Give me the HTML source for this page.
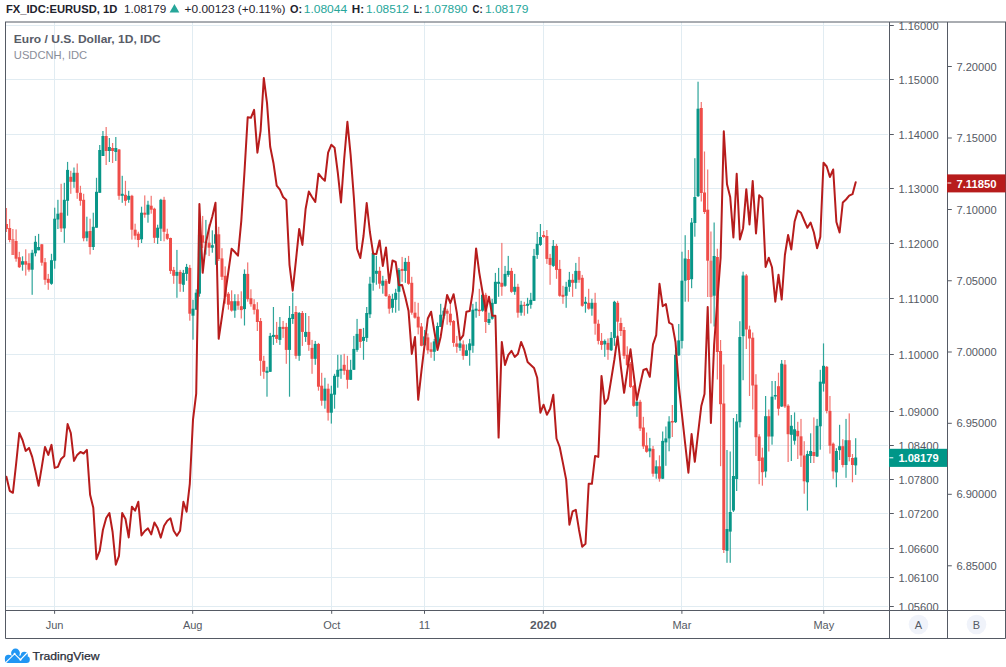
<!DOCTYPE html>
<html><head><meta charset="utf-8"><title>EURUSD chart</title>
<style>
html,body{margin:0;padding:0;background:#fff;}
body{width:1006px;height:667px;position:relative;overflow:hidden;font-family:"Liberation Sans",sans-serif;}
</style></head><body>
<svg width="1006" height="667" viewBox="0 0 1006 667" style="position:absolute;left:0;top:0">
<g stroke="#e1ecf2" stroke-width="1" shape-rendering="crispEdges">
<line x1="6" y1="25.50" x2="888.3" y2="25.50"/>
<line x1="6" y1="79.50" x2="888.3" y2="79.50"/>
<line x1="6" y1="134.50" x2="888.3" y2="134.50"/>
<line x1="6" y1="188.50" x2="888.3" y2="188.50"/>
<line x1="6" y1="243.50" x2="888.3" y2="243.50"/>
<line x1="6" y1="298.50" x2="888.3" y2="298.50"/>
<line x1="6" y1="354.50" x2="888.3" y2="354.50"/>
<line x1="6" y1="411.50" x2="888.3" y2="411.50"/>
<line x1="6" y1="445.50" x2="888.3" y2="445.50"/>
<line x1="6" y1="479.50" x2="888.3" y2="479.50"/>
<line x1="6" y1="513.50" x2="888.3" y2="513.50"/>
<line x1="6" y1="548.50" x2="888.3" y2="548.50"/>
<line x1="6" y1="577.50" x2="888.3" y2="577.50"/>
<line x1="6" y1="606.50" x2="888.3" y2="606.50"/>
<line x1="54.6" y1="22" x2="54.6" y2="610"/>
<line x1="192.7" y1="22" x2="192.7" y2="610"/>
<line x1="331.7" y1="22" x2="331.7" y2="610"/>
<line x1="424.5" y1="22" x2="424.5" y2="610"/>
<line x1="543.3" y1="22" x2="543.3" y2="610"/>
<line x1="681.9" y1="22" x2="681.9" y2="610"/>
<line x1="823.8" y1="22" x2="823.8" y2="610"/>
</g>
<defs><clipPath id="plot"><rect x="6" y="22" width="883" height="588"/></clipPath></defs>
<g clip-path="url(#plot)">
<g><rect x="5.84" y="208.0" width="1.2" height="24.0" fill="#f27470"/><rect x="9.06" y="219.0" width="1.2" height="23.3" fill="#f27470"/><rect x="12.27" y="229.0" width="1.2" height="26.0" fill="#f27470"/><rect x="15.49" y="229.4" width="1.2" height="32.3" fill="#f27470"/><rect x="18.71" y="251.8" width="1.2" height="16.2" fill="#f27470"/><rect x="21.92" y="256.3" width="1.2" height="14.4" fill="#2ea59a"/><rect x="25.14" y="249.3" width="1.2" height="26.3" fill="#f27470"/><rect x="28.36" y="253.3" width="1.2" height="18.4" fill="#f27470"/><rect x="31.57" y="249.8" width="1.2" height="45.0" fill="#2ea59a"/><rect x="34.79" y="235.9" width="1.2" height="20.4" fill="#2ea59a"/><rect x="38.01" y="233.9" width="1.2" height="16.4" fill="#2ea59a"/><rect x="41.22" y="244.0" width="1.2" height="21.7" fill="#f27470"/><rect x="44.44" y="258.0" width="1.2" height="26.8" fill="#f27470"/><rect x="47.66" y="273.9" width="1.2" height="15.9" fill="#f27470"/><rect x="50.88" y="253.8" width="1.2" height="31.0" fill="#2ea59a"/><rect x="54.09" y="207.7" width="1.2" height="61.0" fill="#2ea59a"/><rect x="57.31" y="199.8" width="1.2" height="29.2" fill="#2ea59a"/><rect x="60.53" y="183.8" width="1.2" height="48.2" fill="#f27470"/><rect x="63.74" y="182.8" width="1.2" height="60.0" fill="#2ea59a"/><rect x="66.96" y="161.9" width="1.2" height="53.8" fill="#2ea59a"/><rect x="70.18" y="170.8" width="1.2" height="23.0" fill="#f27470"/><rect x="73.39" y="167.5" width="1.2" height="20.3" fill="#2ea59a"/><rect x="76.61" y="163.5" width="1.2" height="35.3" fill="#f27470"/><rect x="79.83" y="185.8" width="1.2" height="19.9" fill="#f27470"/><rect x="83.04" y="193.8" width="1.2" height="47.5" fill="#f27470"/><rect x="86.26" y="216.7" width="1.2" height="24.6" fill="#2ea59a"/><rect x="89.48" y="218.7" width="1.2" height="35.8" fill="#f27470"/><rect x="92.69" y="212.7" width="1.2" height="37.3" fill="#2ea59a"/><rect x="95.91" y="177.8" width="1.2" height="49.9" fill="#2ea59a"/><rect x="99.13" y="145.0" width="1.2" height="47.8" fill="#2ea59a"/><rect x="102.34" y="131.0" width="1.2" height="25.0" fill="#2ea59a"/><rect x="105.56" y="127.0" width="1.2" height="38.0" fill="#f27470"/><rect x="108.78" y="138.0" width="1.2" height="24.0" fill="#2ea59a"/><rect x="111.99" y="143.0" width="1.2" height="20.0" fill="#f27470"/><rect x="115.21" y="137.0" width="1.2" height="24.0" fill="#2ea59a"/><rect x="118.43" y="149.0" width="1.2" height="50.8" fill="#f27470"/><rect x="121.64" y="175.8" width="1.2" height="27.0" fill="#2ea59a"/><rect x="124.86" y="180.8" width="1.2" height="24.9" fill="#f27470"/><rect x="128.08" y="190.8" width="1.2" height="12.0" fill="#2ea59a"/><rect x="131.30" y="194.8" width="1.2" height="44.8" fill="#f27470"/><rect x="134.51" y="223.7" width="1.2" height="15.9" fill="#f27470"/><rect x="137.73" y="231.7" width="1.2" height="15.6" fill="#f27470"/><rect x="140.95" y="206.7" width="1.2" height="36.3" fill="#2ea59a"/><rect x="144.16" y="195.4" width="1.2" height="22.3" fill="#f27470"/><rect x="147.38" y="200.8" width="1.2" height="21.9" fill="#2ea59a"/><rect x="150.60" y="195.8" width="1.2" height="17.9" fill="#f27470"/><rect x="153.81" y="207.7" width="1.2" height="35.3" fill="#f27470"/><rect x="157.03" y="224.7" width="1.2" height="19.3" fill="#2ea59a"/><rect x="160.25" y="198.8" width="1.2" height="42.2" fill="#2ea59a"/><rect x="163.46" y="196.8" width="1.2" height="44.5" fill="#f27470"/><rect x="166.68" y="228.7" width="1.2" height="11.3" fill="#f27470"/><rect x="169.90" y="237.6" width="1.2" height="36.3" fill="#f27470"/><rect x="173.11" y="266.9" width="1.2" height="16.9" fill="#f27470"/><rect x="176.33" y="249.9" width="1.2" height="47.9" fill="#2ea59a"/><rect x="179.55" y="269.9" width="1.2" height="21.9" fill="#f27470"/><rect x="182.76" y="269.9" width="1.2" height="21.9" fill="#2ea59a"/><rect x="185.98" y="263.9" width="1.2" height="16.9" fill="#2ea59a"/><rect x="189.20" y="264.9" width="1.2" height="55.8" fill="#f27470"/><rect x="192.41" y="299.8" width="1.2" height="39.9" fill="#2ea59a"/><rect x="195.63" y="289.3" width="1.2" height="20.7" fill="#2ea59a"/><rect x="198.85" y="230.0" width="1.2" height="66.7" fill="#2ea59a"/><rect x="202.06" y="215.9" width="1.2" height="32.1" fill="#f27470"/><rect x="205.28" y="219.9" width="1.2" height="34.7" fill="#2ea59a"/><rect x="208.50" y="224.3" width="1.2" height="31.8" fill="#f27470"/><rect x="211.72" y="230.3" width="1.2" height="22.4" fill="#2ea59a"/><rect x="214.93" y="225.8" width="1.2" height="39.0" fill="#2ea59a"/><rect x="218.15" y="226.8" width="1.2" height="34.2" fill="#f27470"/><rect x="221.37" y="248.2" width="1.2" height="31.8" fill="#f27470"/><rect x="224.58" y="266.4" width="1.2" height="37.3" fill="#f27470"/><rect x="227.80" y="292.0" width="1.2" height="17.6" fill="#f27470"/><rect x="231.02" y="290.3" width="1.2" height="21.3" fill="#f27470"/><rect x="234.23" y="294.2" width="1.2" height="23.6" fill="#2ea59a"/><rect x="237.45" y="294.2" width="1.2" height="15.6" fill="#f27470"/><rect x="240.67" y="291.3" width="1.2" height="27.2" fill="#f27470"/><rect x="243.88" y="269.4" width="1.2" height="56.1" fill="#2ea59a"/><rect x="247.10" y="262.4" width="1.2" height="39.3" fill="#f27470"/><rect x="250.32" y="289.3" width="1.2" height="17.4" fill="#f27470"/><rect x="253.53" y="299.2" width="1.2" height="15.2" fill="#f27470"/><rect x="256.75" y="302.2" width="1.2" height="28.8" fill="#f27470"/><rect x="259.97" y="318.0" width="1.2" height="57.8" fill="#f27470"/><rect x="263.18" y="355.8" width="1.2" height="23.0" fill="#f27470"/><rect x="266.40" y="366.8" width="1.2" height="29.9" fill="#2ea59a"/><rect x="269.62" y="332.9" width="1.2" height="39.1" fill="#2ea59a"/><rect x="272.83" y="307.0" width="1.2" height="37.9" fill="#2ea59a"/><rect x="276.05" y="321.9" width="1.2" height="21.0" fill="#f27470"/><rect x="279.27" y="317.0" width="1.2" height="27.9" fill="#2ea59a"/><rect x="282.48" y="320.9" width="1.2" height="17.0" fill="#f27470"/><rect x="285.70" y="322.9" width="1.2" height="40.9" fill="#f27470"/><rect x="288.92" y="306.0" width="1.2" height="90.7" fill="#2ea59a"/><rect x="292.14" y="292.7" width="1.2" height="31.2" fill="#2ea59a"/><rect x="295.35" y="306.0" width="1.2" height="52.8" fill="#f27470"/><rect x="298.57" y="312.0" width="1.2" height="48.8" fill="#2ea59a"/><rect x="301.79" y="311.0" width="1.2" height="34.9" fill="#f27470"/><rect x="305.00" y="313.0" width="1.2" height="28.9" fill="#2ea59a"/><rect x="308.22" y="316.0" width="1.2" height="34.8" fill="#f27470"/><rect x="311.44" y="339.9" width="1.2" height="33.9" fill="#f27470"/><rect x="314.65" y="340.9" width="1.2" height="23.9" fill="#2ea59a"/><rect x="317.87" y="342.9" width="1.2" height="47.8" fill="#f27470"/><rect x="321.09" y="372.8" width="1.2" height="32.9" fill="#f27470"/><rect x="324.30" y="377.8" width="1.2" height="30.9" fill="#2ea59a"/><rect x="327.52" y="383.7" width="1.2" height="36.9" fill="#f27470"/><rect x="330.74" y="385.7" width="1.2" height="37.9" fill="#2ea59a"/><rect x="333.95" y="373.8" width="1.2" height="34.9" fill="#2ea59a"/><rect x="337.17" y="354.8" width="1.2" height="32.9" fill="#2ea59a"/><rect x="340.39" y="354.8" width="1.2" height="24.0" fill="#2ea59a"/><rect x="343.60" y="353.8" width="1.2" height="21.0" fill="#f27470"/><rect x="346.82" y="355.8" width="1.2" height="32.9" fill="#f27470"/><rect x="350.04" y="359.8" width="1.2" height="20.2" fill="#2ea59a"/><rect x="353.25" y="335.9" width="1.2" height="34.1" fill="#2ea59a"/><rect x="356.47" y="318.9" width="1.2" height="32.9" fill="#2ea59a"/><rect x="359.69" y="328.9" width="1.2" height="19.0" fill="#f27470"/><rect x="362.90" y="327.9" width="1.2" height="31.9" fill="#2ea59a"/><rect x="366.12" y="307.0" width="1.2" height="34.9" fill="#2ea59a"/><rect x="369.34" y="276.8" width="1.2" height="41.2" fill="#2ea59a"/><rect x="372.56" y="252.8" width="1.2" height="37.9" fill="#2ea59a"/><rect x="375.77" y="255.8" width="1.2" height="28.9" fill="#2ea59a"/><rect x="378.99" y="266.8" width="1.2" height="21.9" fill="#f27470"/><rect x="382.21" y="275.8" width="1.2" height="17.9" fill="#2ea59a"/><rect x="385.42" y="279.0" width="1.2" height="18.0" fill="#f27470"/><rect x="388.64" y="294.0" width="1.2" height="19.7" fill="#f27470"/><rect x="391.86" y="293.8" width="1.2" height="18.9" fill="#2ea59a"/><rect x="395.07" y="288.8" width="1.2" height="23.9" fill="#2ea59a"/><rect x="398.29" y="268.0" width="1.2" height="42.7" fill="#2ea59a"/><rect x="401.51" y="256.9" width="1.2" height="24.9" fill="#f27470"/><rect x="404.72" y="257.9" width="1.2" height="24.9" fill="#2ea59a"/><rect x="407.94" y="255.9" width="1.2" height="28.9" fill="#f27470"/><rect x="411.16" y="276.8" width="1.2" height="37.9" fill="#f27470"/><rect x="414.37" y="301.8" width="1.2" height="16.9" fill="#f27470"/><rect x="417.59" y="302.8" width="1.2" height="31.6" fill="#f27470"/><rect x="420.81" y="323.0" width="1.2" height="23.3" fill="#f27470"/><rect x="424.02" y="330.0" width="1.2" height="16.3" fill="#2ea59a"/><rect x="427.24" y="333.4" width="1.2" height="20.4" fill="#f27470"/><rect x="430.46" y="342.4" width="1.2" height="15.4" fill="#f27470"/><rect x="433.67" y="338.9" width="1.2" height="21.9" fill="#2ea59a"/><rect x="436.89" y="322.5" width="1.2" height="24.3" fill="#2ea59a"/><rect x="440.11" y="303.8" width="1.2" height="23.2" fill="#2ea59a"/><rect x="443.32" y="307.8" width="1.2" height="10.9" fill="#2ea59a"/><rect x="446.54" y="308.7" width="1.2" height="16.0" fill="#f27470"/><rect x="449.76" y="300.8" width="1.2" height="24.7" fill="#f27470"/><rect x="452.98" y="320.0" width="1.2" height="26.8" fill="#f27470"/><rect x="456.19" y="335.9" width="1.2" height="16.9" fill="#f27470"/><rect x="459.41" y="339.9" width="1.2" height="10.9" fill="#2ea59a"/><rect x="462.63" y="340.4" width="1.2" height="19.4" fill="#f27470"/><rect x="465.84" y="344.4" width="1.2" height="11.6" fill="#2ea59a"/><rect x="469.06" y="338.9" width="1.2" height="26.8" fill="#2ea59a"/><rect x="472.28" y="303.8" width="1.2" height="49.0" fill="#2ea59a"/><rect x="475.49" y="301.8" width="1.2" height="15.9" fill="#2ea59a"/><rect x="478.71" y="288.8" width="1.2" height="27.2" fill="#f27470"/><rect x="481.93" y="293.8" width="1.2" height="17.9" fill="#2ea59a"/><rect x="485.14" y="292.8" width="1.2" height="40.2" fill="#f27470"/><rect x="488.36" y="312.7" width="1.2" height="12.3" fill="#2ea59a"/><rect x="491.58" y="298.8" width="1.2" height="20.9" fill="#2ea59a"/><rect x="494.79" y="272.9" width="1.2" height="31.1" fill="#2ea59a"/><rect x="498.01" y="267.9" width="1.2" height="28.9" fill="#2ea59a"/><rect x="501.23" y="242.9" width="1.2" height="52.9" fill="#f27470"/><rect x="504.44" y="265.9" width="1.2" height="20.9" fill="#2ea59a"/><rect x="507.66" y="255.9" width="1.2" height="20.9" fill="#2ea59a"/><rect x="510.88" y="267.9" width="1.2" height="24.9" fill="#f27470"/><rect x="514.09" y="273.9" width="1.2" height="20.9" fill="#2ea59a"/><rect x="517.31" y="283.8" width="1.2" height="33.9" fill="#f27470"/><rect x="520.53" y="300.8" width="1.2" height="14.9" fill="#2ea59a"/><rect x="523.74" y="301.8" width="1.2" height="13.9" fill="#f27470"/><rect x="526.96" y="297.8" width="1.2" height="15.9" fill="#2ea59a"/><rect x="530.18" y="292.8" width="1.2" height="15.9" fill="#2ea59a"/><rect x="533.40" y="248.9" width="1.2" height="52.1" fill="#2ea59a"/><rect x="536.61" y="232.0" width="1.2" height="26.9" fill="#2ea59a"/><rect x="539.83" y="224.0" width="1.2" height="21.9" fill="#2ea59a"/><rect x="543.05" y="231.0" width="1.2" height="7.0" fill="#f27470"/><rect x="546.26" y="230.0" width="1.2" height="33.9" fill="#f27470"/><rect x="549.48" y="253.9" width="1.2" height="30.9" fill="#f27470"/><rect x="552.70" y="240.0" width="1.2" height="26.9" fill="#2ea59a"/><rect x="555.91" y="243.9" width="1.2" height="34.9" fill="#f27470"/><rect x="559.13" y="259.9" width="1.2" height="36.9" fill="#f27470"/><rect x="562.35" y="285.8" width="1.2" height="18.0" fill="#f27470"/><rect x="565.56" y="281.8" width="1.2" height="26.0" fill="#2ea59a"/><rect x="568.78" y="271.9" width="1.2" height="19.9" fill="#2ea59a"/><rect x="572.00" y="273.9" width="1.2" height="22.9" fill="#f27470"/><rect x="575.21" y="262.9" width="1.2" height="25.9" fill="#2ea59a"/><rect x="578.43" y="256.9" width="1.2" height="25.9" fill="#f27470"/><rect x="581.65" y="274.9" width="1.2" height="31.9" fill="#f27470"/><rect x="584.86" y="296.8" width="1.2" height="15.9" fill="#2ea59a"/><rect x="588.08" y="288.8" width="1.2" height="20.9" fill="#f27470"/><rect x="591.30" y="298.8" width="1.2" height="16.9" fill="#2ea59a"/><rect x="594.51" y="292.8" width="1.2" height="41.9" fill="#f27470"/><rect x="597.73" y="319.7" width="1.2" height="24.7" fill="#f27470"/><rect x="600.95" y="333.0" width="1.2" height="16.8" fill="#f27470"/><rect x="604.16" y="339.4" width="1.2" height="17.4" fill="#2ea59a"/><rect x="607.38" y="338.4" width="1.2" height="21.4" fill="#f27470"/><rect x="610.60" y="332.0" width="1.2" height="19.0" fill="#2ea59a"/><rect x="613.82" y="300.8" width="1.2" height="45.0" fill="#2ea59a"/><rect x="617.03" y="300.8" width="1.2" height="35.2" fill="#f27470"/><rect x="620.25" y="317.7" width="1.2" height="18.3" fill="#f27470"/><rect x="623.47" y="327.0" width="1.2" height="31.8" fill="#f27470"/><rect x="626.68" y="346.3" width="1.2" height="20.2" fill="#f27470"/><rect x="629.90" y="362.0" width="1.2" height="26.0" fill="#f27470"/><rect x="633.12" y="384.9" width="1.2" height="21.9" fill="#f27470"/><rect x="636.33" y="395.8" width="1.2" height="21.0" fill="#2ea59a"/><rect x="639.55" y="399.8" width="1.2" height="31.2" fill="#f27470"/><rect x="642.77" y="416.8" width="1.2" height="32.1" fill="#f27470"/><rect x="645.98" y="432.5" width="1.2" height="20.2" fill="#f27470"/><rect x="649.20" y="437.9" width="1.2" height="19.4" fill="#2ea59a"/><rect x="652.42" y="445.9" width="1.2" height="30.8" fill="#f27470"/><rect x="655.63" y="460.3" width="1.2" height="18.4" fill="#2ea59a"/><rect x="658.85" y="455.3" width="1.2" height="26.4" fill="#f27470"/><rect x="662.07" y="431.5" width="1.2" height="47.5" fill="#2ea59a"/><rect x="665.28" y="426.5" width="1.2" height="39.3" fill="#2ea59a"/><rect x="668.50" y="416.2" width="1.2" height="35.1" fill="#2ea59a"/><rect x="671.72" y="405.0" width="1.2" height="32.0" fill="#f27470"/><rect x="674.93" y="349.8" width="1.2" height="73.2" fill="#2ea59a"/><rect x="678.15" y="324.0" width="1.2" height="32.0" fill="#2ea59a"/><rect x="681.37" y="251.7" width="1.2" height="96.8" fill="#2ea59a"/><rect x="684.58" y="235.2" width="1.2" height="66.5" fill="#2ea59a"/><rect x="687.80" y="250.0" width="1.2" height="51.7" fill="#f27470"/><rect x="691.02" y="218.0" width="1.2" height="70.2" fill="#2ea59a"/><rect x="694.24" y="158.2" width="1.2" height="78.5" fill="#2ea59a"/><rect x="697.45" y="81.7" width="1.2" height="115.3" fill="#2ea59a"/><rect x="700.67" y="102.0" width="1.2" height="99.5" fill="#f27470"/><rect x="703.89" y="151.5" width="1.2" height="62.5" fill="#f27470"/><rect x="707.10" y="169.5" width="1.2" height="127.5" fill="#f27470"/><rect x="710.32" y="231.5" width="1.2" height="92.0" fill="#f27470"/><rect x="713.54" y="222.5" width="1.2" height="104.0" fill="#2ea59a"/><rect x="716.75" y="248.7" width="1.2" height="130.8" fill="#f27470"/><rect x="719.97" y="340.0" width="1.2" height="126.2" fill="#f27470"/><rect x="723.19" y="364.5" width="1.2" height="188.5" fill="#f27470"/><rect x="726.40" y="450.0" width="1.2" height="112.8" fill="#2ea59a"/><rect x="729.62" y="451.5" width="1.2" height="111.3" fill="#2ea59a"/><rect x="732.84" y="418.0" width="1.2" height="94.0" fill="#2ea59a"/><rect x="736.05" y="414.0" width="1.2" height="77.0" fill="#2ea59a"/><rect x="739.27" y="321.2" width="1.2" height="106.3" fill="#2ea59a"/><rect x="742.49" y="271.7" width="1.2" height="108.5" fill="#2ea59a"/><rect x="745.70" y="274.0" width="1.2" height="75.0" fill="#f27470"/><rect x="748.92" y="325.7" width="1.2" height="70.3" fill="#f27470"/><rect x="752.14" y="332.5" width="1.2" height="77.0" fill="#f27470"/><rect x="755.35" y="374.2" width="1.2" height="81.8" fill="#f27470"/><rect x="758.57" y="434.2" width="1.2" height="50.0" fill="#f27470"/><rect x="761.79" y="447.7" width="1.2" height="38.0" fill="#f27470"/><rect x="765.00" y="396.0" width="1.2" height="81.5" fill="#2ea59a"/><rect x="768.22" y="409.5" width="1.2" height="42.0" fill="#f27470"/><rect x="771.44" y="381.0" width="1.2" height="63.7" fill="#2ea59a"/><rect x="774.66" y="381.0" width="1.2" height="18.7" fill="#2ea59a"/><rect x="777.87" y="372.7" width="1.2" height="42.8" fill="#f27470"/><rect x="781.09" y="360.0" width="1.2" height="47.0" fill="#2ea59a"/><rect x="784.31" y="360.0" width="1.2" height="48.0" fill="#f27470"/><rect x="787.52" y="404.2" width="1.2" height="57.8" fill="#f27470"/><rect x="790.74" y="415.0" width="1.2" height="46.0" fill="#2ea59a"/><rect x="793.96" y="412.4" width="1.2" height="32.3" fill="#2ea59a"/><rect x="797.17" y="421.8" width="1.2" height="37.2" fill="#f27470"/><rect x="800.39" y="418.9" width="1.2" height="48.0" fill="#f27470"/><rect x="803.61" y="441.2" width="1.2" height="52.5" fill="#f27470"/><rect x="806.82" y="450.7" width="1.2" height="59.9" fill="#2ea59a"/><rect x="810.04" y="433.3" width="1.2" height="29.7" fill="#2ea59a"/><rect x="813.26" y="417.4" width="1.2" height="45.6" fill="#f27470"/><rect x="816.47" y="418.9" width="1.2" height="38.1" fill="#2ea59a"/><rect x="819.69" y="369.8" width="1.2" height="79.9" fill="#2ea59a"/><rect x="822.91" y="343.4" width="1.2" height="48.2" fill="#2ea59a"/><rect x="826.12" y="366.0" width="1.2" height="47.4" fill="#f27470"/><rect x="829.34" y="396.0" width="1.2" height="57.6" fill="#f27470"/><rect x="832.56" y="442.5" width="1.2" height="36.3" fill="#f27470"/><rect x="835.77" y="448.2" width="1.2" height="39.1" fill="#2ea59a"/><rect x="838.99" y="424.8" width="1.2" height="35.2" fill="#2ea59a"/><rect x="842.21" y="439.2" width="1.2" height="28.2" fill="#f27470"/><rect x="845.42" y="418.9" width="1.2" height="58.9" fill="#2ea59a"/><rect x="848.64" y="413.4" width="1.2" height="48.0" fill="#f27470"/><rect x="851.86" y="454.0" width="1.2" height="28.3" fill="#f27470"/><rect x="855.08" y="438.2" width="1.2" height="36.7" fill="#2ea59a"/></g>
<g><rect x="4.94" y="224.0" width="3" height="5.0" fill="#ef4d49"/><rect x="8.16" y="228.0" width="3" height="12.0" fill="#ef4d49"/><rect x="11.37" y="239.0" width="3" height="16.0" fill="#f27470"/><rect x="14.59" y="241.0" width="3" height="17.7" fill="#ef4d49"/><rect x="17.81" y="257.2" width="3" height="10.0" fill="#ef4d49"/><rect x="21.02" y="261.2" width="3" height="3.5" fill="#089688"/><rect x="24.24" y="261.2" width="3" height="3.5" fill="#ef4d49"/><rect x="27.46" y="263.2" width="3" height="6.5" fill="#ef4d49"/><rect x="30.67" y="252.8" width="3" height="16.9" fill="#089688"/><rect x="33.89" y="241.8" width="3" height="11.5" fill="#089688"/><rect x="37.11" y="247.0" width="3" height="3.3" fill="#089688"/><rect x="40.32" y="244.3" width="3" height="18.4" fill="#ef4d49"/><rect x="43.54" y="262.2" width="3" height="17.6" fill="#ef4d49"/><rect x="46.76" y="278.8" width="3" height="4.0" fill="#ef4d49"/><rect x="49.98" y="260.2" width="3" height="23.6" fill="#089688"/><rect x="53.19" y="218.7" width="3" height="42.0" fill="#089688"/><rect x="56.41" y="213.7" width="3" height="5.8" fill="#089688"/><rect x="59.63" y="212.7" width="3" height="15.7" fill="#ef4d49"/><rect x="62.84" y="199.8" width="3" height="28.6" fill="#089688"/><rect x="66.06" y="169.9" width="3" height="30.9" fill="#089688"/><rect x="69.28" y="176.8" width="3" height="5.0" fill="#ef4d49"/><rect x="72.49" y="172.8" width="3" height="9.0" fill="#089688"/><rect x="75.71" y="172.8" width="3" height="20.0" fill="#ef4d49"/><rect x="78.93" y="192.8" width="3" height="8.0" fill="#ef4d49"/><rect x="82.14" y="199.8" width="3" height="38.5" fill="#ef4d49"/><rect x="85.36" y="231.4" width="3" height="6.4" fill="#089688"/><rect x="88.58" y="231.0" width="3" height="16.0" fill="#ef4d49"/><rect x="91.79" y="226.8" width="3" height="20.2" fill="#089688"/><rect x="95.01" y="191.8" width="3" height="35.9" fill="#089688"/><rect x="98.23" y="150.0" width="3" height="42.8" fill="#089688"/><rect x="101.44" y="136.0" width="3" height="20.0" fill="#089688"/><rect x="104.66" y="136.0" width="3" height="15.0" fill="#ef4d49"/><rect x="107.88" y="147.0" width="3" height="4.0" fill="#089688"/><rect x="111.09" y="148.0" width="3" height="3.0" fill="#ef4d49"/><rect x="114.31" y="148.0" width="3" height="4.0" fill="#089688"/><rect x="117.53" y="149.5" width="3" height="46.3" fill="#ef4d49"/><rect x="120.74" y="193.8" width="3" height="2.0" fill="#089688"/><rect x="123.96" y="194.8" width="3" height="6.0" fill="#ef4d49"/><rect x="127.18" y="195.8" width="3" height="4.0" fill="#089688"/><rect x="130.40" y="195.8" width="3" height="33.9" fill="#ef4d49"/><rect x="133.61" y="229.7" width="3" height="6.0" fill="#ef4d49"/><rect x="136.83" y="233.7" width="3" height="6.3" fill="#ef4d49"/><rect x="140.05" y="212.7" width="3" height="26.6" fill="#089688"/><rect x="143.26" y="212.7" width="3" height="2.0" fill="#ef4d49"/><rect x="146.48" y="204.7" width="3" height="10.0" fill="#089688"/><rect x="149.70" y="205.7" width="3" height="4.0" fill="#ef4d49"/><rect x="152.91" y="208.7" width="3" height="29.1" fill="#ef4d49"/><rect x="156.13" y="227.7" width="3" height="10.1" fill="#089688"/><rect x="159.35" y="199.8" width="3" height="28.9" fill="#089688"/><rect x="162.56" y="199.8" width="3" height="32.0" fill="#ef4d49"/><rect x="165.78" y="233.8" width="3" height="5.0" fill="#ef4d49"/><rect x="169.00" y="238.0" width="3" height="32.9" fill="#ef4d49"/><rect x="172.21" y="269.9" width="3" height="5.9" fill="#ef4d49"/><rect x="175.43" y="271.9" width="3" height="3.9" fill="#089688"/><rect x="178.65" y="271.9" width="3" height="11.9" fill="#ef4d49"/><rect x="181.86" y="272.9" width="3" height="11.9" fill="#089688"/><rect x="185.08" y="266.9" width="3" height="7.0" fill="#089688"/><rect x="188.30" y="267.9" width="3" height="45.8" fill="#ef4d49"/><rect x="191.51" y="308.7" width="3" height="7.0" fill="#089688"/><rect x="194.73" y="292.7" width="3" height="16.9" fill="#089688"/><rect x="197.95" y="235.0" width="3" height="58.7" fill="#089688"/><rect x="201.16" y="235.3" width="3" height="7.4" fill="#ef4d49"/><rect x="204.38" y="241.7" width="3" height="1.0" fill="#089688"/><rect x="207.60" y="242.7" width="3" height="5.0" fill="#ef4d49"/><rect x="210.82" y="245.2" width="3" height="2.5" fill="#089688"/><rect x="214.03" y="234.3" width="3" height="9.4" fill="#089688"/><rect x="217.25" y="234.3" width="3" height="24.7" fill="#ef4d49"/><rect x="220.47" y="258.4" width="3" height="18.4" fill="#ef4d49"/><rect x="223.68" y="275.8" width="3" height="20.9" fill="#ef4d49"/><rect x="226.90" y="293.7" width="3" height="11.0" fill="#ef4d49"/><rect x="230.12" y="301.2" width="3" height="9.4" fill="#ef4d49"/><rect x="233.33" y="301.2" width="3" height="9.4" fill="#089688"/><rect x="236.55" y="301.2" width="3" height="4.5" fill="#ef4d49"/><rect x="239.77" y="306.2" width="3" height="3.9" fill="#ef4d49"/><rect x="242.98" y="273.9" width="3" height="35.2" fill="#089688"/><rect x="246.20" y="273.9" width="3" height="25.3" fill="#ef4d49"/><rect x="249.42" y="298.2" width="3" height="6.0" fill="#ef4d49"/><rect x="252.63" y="304.2" width="3" height="5.6" fill="#ef4d49"/><rect x="255.85" y="309.4" width="3" height="12.6" fill="#ef4d49"/><rect x="259.07" y="321.0" width="3" height="39.8" fill="#ef4d49"/><rect x="262.28" y="360.8" width="3" height="11.0" fill="#ef4d49"/><rect x="265.50" y="370.8" width="3" height="2.0" fill="#089688"/><rect x="268.72" y="335.9" width="3" height="35.9" fill="#089688"/><rect x="271.93" y="334.9" width="3" height="2.0" fill="#089688"/><rect x="275.15" y="334.9" width="3" height="4.0" fill="#ef4d49"/><rect x="278.37" y="326.9" width="3" height="13.0" fill="#089688"/><rect x="281.58" y="326.9" width="3" height="2.0" fill="#ef4d49"/><rect x="284.80" y="326.9" width="3" height="23.0" fill="#ef4d49"/><rect x="288.02" y="317.9" width="3" height="32.0" fill="#089688"/><rect x="291.24" y="314.0" width="3" height="5.0" fill="#089688"/><rect x="294.45" y="312.0" width="3" height="43.8" fill="#ef4d49"/><rect x="297.67" y="313.0" width="3" height="42.8" fill="#089688"/><rect x="300.89" y="313.0" width="3" height="18.9" fill="#ef4d49"/><rect x="304.10" y="331.9" width="3" height="5.0" fill="#089688"/><rect x="307.32" y="331.9" width="3" height="13.0" fill="#ef4d49"/><rect x="310.54" y="347.9" width="3" height="10.9" fill="#ef4d49"/><rect x="313.75" y="343.9" width="3" height="14.9" fill="#089688"/><rect x="316.97" y="343.9" width="3" height="42.8" fill="#ef4d49"/><rect x="320.19" y="385.7" width="3" height="15.0" fill="#ef4d49"/><rect x="323.40" y="388.7" width="3" height="12.0" fill="#089688"/><rect x="326.62" y="388.7" width="3" height="24.0" fill="#ef4d49"/><rect x="329.84" y="393.7" width="3" height="19.0" fill="#089688"/><rect x="333.05" y="375.8" width="3" height="18.9" fill="#089688"/><rect x="336.27" y="369.8" width="3" height="7.0" fill="#089688"/><rect x="339.49" y="368.8" width="3" height="2.0" fill="#089688"/><rect x="342.70" y="364.8" width="3" height="6.0" fill="#ef4d49"/><rect x="345.92" y="369.8" width="3" height="10.0" fill="#ef4d49"/><rect x="349.14" y="369.8" width="3" height="10.0" fill="#089688"/><rect x="352.35" y="348.9" width="3" height="20.9" fill="#089688"/><rect x="355.57" y="333.9" width="3" height="16.0" fill="#089688"/><rect x="358.79" y="328.9" width="3" height="13.0" fill="#ef4d49"/><rect x="362.00" y="336.9" width="3" height="4.0" fill="#089688"/><rect x="365.22" y="313.0" width="3" height="24.9" fill="#089688"/><rect x="368.44" y="283.7" width="3" height="30.6" fill="#089688"/><rect x="371.66" y="252.8" width="3" height="29.9" fill="#089688"/><rect x="374.87" y="270.8" width="3" height="3.0" fill="#089688"/><rect x="378.09" y="270.8" width="3" height="12.9" fill="#ef4d49"/><rect x="381.31" y="280.7" width="3" height="5.0" fill="#089688"/><rect x="384.52" y="280.8" width="3" height="15.2" fill="#ef4d49"/><rect x="387.74" y="295.8" width="3" height="12.9" fill="#ef4d49"/><rect x="390.96" y="298.8" width="3" height="9.0" fill="#089688"/><rect x="394.17" y="292.8" width="3" height="7.0" fill="#089688"/><rect x="397.39" y="269.9" width="3" height="21.9" fill="#089688"/><rect x="400.61" y="268.9" width="3" height="2.0" fill="#ef4d49"/><rect x="403.82" y="261.9" width="3" height="9.0" fill="#089688"/><rect x="407.04" y="261.9" width="3" height="21.9" fill="#ef4d49"/><rect x="410.26" y="282.8" width="3" height="29.9" fill="#ef4d49"/><rect x="413.47" y="312.7" width="3" height="5.0" fill="#ef4d49"/><rect x="416.69" y="316.7" width="3" height="10.8" fill="#ef4d49"/><rect x="419.91" y="326.5" width="3" height="19.3" fill="#ef4d49"/><rect x="423.12" y="336.4" width="3" height="8.9" fill="#089688"/><rect x="426.34" y="337.4" width="3" height="12.9" fill="#ef4d49"/><rect x="429.56" y="349.3" width="3" height="2.5" fill="#ef4d49"/><rect x="432.77" y="341.4" width="3" height="10.4" fill="#089688"/><rect x="435.99" y="326.0" width="3" height="18.4" fill="#089688"/><rect x="439.21" y="314.7" width="3" height="12.3" fill="#089688"/><rect x="442.42" y="310.7" width="3" height="5.0" fill="#089688"/><rect x="445.64" y="310.7" width="3" height="3.0" fill="#ef4d49"/><rect x="448.86" y="313.7" width="3" height="8.6" fill="#ef4d49"/><rect x="452.08" y="321.0" width="3" height="21.9" fill="#ef4d49"/><rect x="455.29" y="343.4" width="3" height="3.4" fill="#ef4d49"/><rect x="458.51" y="343.4" width="3" height="4.4" fill="#089688"/><rect x="461.73" y="344.4" width="3" height="11.4" fill="#ef4d49"/><rect x="464.94" y="350.3" width="3" height="5.5" fill="#089688"/><rect x="468.16" y="343.4" width="3" height="6.9" fill="#089688"/><rect x="471.38" y="309.7" width="3" height="36.1" fill="#089688"/><rect x="474.59" y="308.7" width="3" height="2.0" fill="#089688"/><rect x="477.81" y="309.7" width="3" height="1.5" fill="#ef4d49"/><rect x="481.03" y="294.8" width="3" height="15.9" fill="#089688"/><rect x="484.24" y="294.8" width="3" height="27.2" fill="#ef4d49"/><rect x="487.46" y="319.0" width="3" height="4.0" fill="#089688"/><rect x="490.68" y="302.8" width="3" height="15.9" fill="#089688"/><rect x="493.89" y="281.8" width="3" height="22.0" fill="#089688"/><rect x="497.11" y="281.8" width="3" height="2.0" fill="#089688"/><rect x="500.33" y="282.8" width="3" height="4.0" fill="#ef4d49"/><rect x="503.54" y="273.9" width="3" height="11.9" fill="#089688"/><rect x="506.76" y="270.9" width="3" height="4.0" fill="#089688"/><rect x="509.98" y="270.9" width="3" height="20.9" fill="#ef4d49"/><rect x="513.19" y="286.8" width="3" height="5.0" fill="#089688"/><rect x="516.41" y="286.8" width="3" height="25.9" fill="#ef4d49"/><rect x="519.63" y="304.8" width="3" height="7.9" fill="#089688"/><rect x="522.84" y="304.8" width="3" height="1.0" fill="#ef4d49"/><rect x="526.06" y="303.8" width="3" height="2.0" fill="#089688"/><rect x="529.28" y="299.8" width="3" height="5.0" fill="#089688"/><rect x="532.50" y="255.9" width="3" height="44.9" fill="#089688"/><rect x="535.71" y="243.9" width="3" height="11.0" fill="#089688"/><rect x="538.93" y="237.0" width="3" height="7.9" fill="#089688"/><rect x="542.15" y="235.0" width="3" height="2.0" fill="#ef4d49"/><rect x="545.36" y="236.0" width="3" height="22.9" fill="#ef4d49"/><rect x="548.58" y="257.9" width="3" height="7.0" fill="#ef4d49"/><rect x="551.80" y="245.9" width="3" height="20.0" fill="#089688"/><rect x="555.01" y="245.9" width="3" height="24.0" fill="#ef4d49"/><rect x="558.23" y="268.9" width="3" height="26.9" fill="#ef4d49"/><rect x="561.45" y="294.8" width="3" height="2.0" fill="#ef4d49"/><rect x="564.66" y="286.8" width="3" height="9.0" fill="#089688"/><rect x="567.88" y="279.8" width="3" height="7.0" fill="#089688"/><rect x="571.10" y="279.8" width="3" height="3.0" fill="#ef4d49"/><rect x="574.31" y="270.9" width="3" height="11.9" fill="#089688"/><rect x="577.53" y="270.9" width="3" height="8.9" fill="#ef4d49"/><rect x="580.75" y="277.8" width="3" height="28.0" fill="#ef4d49"/><rect x="583.96" y="301.8" width="3" height="2.0" fill="#089688"/><rect x="587.18" y="302.8" width="3" height="5.9" fill="#ef4d49"/><rect x="590.40" y="302.8" width="3" height="5.9" fill="#089688"/><rect x="593.61" y="302.8" width="3" height="20.9" fill="#ef4d49"/><rect x="596.83" y="323.7" width="3" height="17.2" fill="#ef4d49"/><rect x="600.05" y="340.9" width="3" height="4.0" fill="#ef4d49"/><rect x="603.26" y="340.9" width="3" height="3.5" fill="#089688"/><rect x="606.48" y="342.9" width="3" height="6.9" fill="#ef4d49"/><rect x="609.70" y="337.9" width="3" height="12.4" fill="#089688"/><rect x="612.92" y="301.8" width="3" height="36.1" fill="#089688"/><rect x="616.13" y="302.8" width="3" height="18.9" fill="#ef4d49"/><rect x="619.35" y="323.0" width="3" height="8.0" fill="#ef4d49"/><rect x="622.57" y="330.0" width="3" height="25.8" fill="#ef4d49"/><rect x="625.78" y="354.8" width="3" height="10.4" fill="#ef4d49"/><rect x="629.00" y="363.7" width="3" height="23.2" fill="#ef4d49"/><rect x="632.22" y="385.9" width="3" height="19.9" fill="#ef4d49"/><rect x="635.43" y="401.8" width="3" height="4.0" fill="#089688"/><rect x="638.65" y="401.8" width="3" height="26.7" fill="#ef4d49"/><rect x="641.87" y="427.5" width="3" height="18.9" fill="#ef4d49"/><rect x="645.08" y="445.4" width="3" height="6.4" fill="#ef4d49"/><rect x="648.30" y="448.4" width="3" height="2.9" fill="#089688"/><rect x="651.52" y="448.9" width="3" height="24.8" fill="#ef4d49"/><rect x="654.73" y="466.3" width="3" height="7.4" fill="#089688"/><rect x="657.95" y="466.3" width="3" height="12.4" fill="#ef4d49"/><rect x="661.17" y="440.9" width="3" height="37.8" fill="#089688"/><rect x="664.38" y="438.4" width="3" height="4.0" fill="#089688"/><rect x="667.60" y="421.5" width="3" height="16.9" fill="#089688"/><rect x="670.82" y="421.0" width="3" height="1.5" fill="#ef4d49"/><rect x="674.03" y="354.8" width="3" height="67.4" fill="#089688"/><rect x="677.25" y="340.4" width="3" height="14.9" fill="#089688"/><rect x="680.47" y="280.7" width="3" height="60.2" fill="#089688"/><rect x="683.68" y="258.5" width="3" height="22.2" fill="#089688"/><rect x="686.90" y="259.0" width="3" height="21.0" fill="#ef4d49"/><rect x="690.12" y="222.5" width="3" height="56.7" fill="#089688"/><rect x="693.34" y="197.0" width="3" height="26.0" fill="#089688"/><rect x="696.55" y="108.7" width="3" height="87.5" fill="#089688"/><rect x="699.77" y="108.0" width="3" height="85.0" fill="#ef4d49"/><rect x="702.99" y="192.5" width="3" height="19.5" fill="#ef4d49"/><rect x="706.20" y="209.7" width="3" height="51.0" fill="#ef4d49"/><rect x="709.42" y="260.7" width="3" height="36.3" fill="#f27470"/><rect x="712.64" y="256.0" width="3" height="39.7" fill="#089688"/><rect x="715.85" y="257.0" width="3" height="95.0" fill="#ef4d49"/><rect x="719.07" y="351.0" width="3" height="53.2" fill="#ef4d49"/><rect x="722.29" y="403.5" width="3" height="146.5" fill="#ef4d49"/><rect x="725.50" y="529.0" width="3" height="21.8" fill="#089688"/><rect x="728.72" y="512.0" width="3" height="19.6" fill="#089688"/><rect x="731.94" y="476.0" width="3" height="34.5" fill="#089688"/><rect x="735.15" y="421.5" width="3" height="57.5" fill="#089688"/><rect x="738.37" y="337.0" width="3" height="85.2" fill="#089688"/><rect x="741.59" y="275.5" width="3" height="60.7" fill="#089688"/><rect x="744.80" y="275.5" width="3" height="54.0" fill="#ef4d49"/><rect x="748.02" y="329.5" width="3" height="9.0" fill="#ef4d49"/><rect x="751.24" y="337.7" width="3" height="47.8" fill="#ef4d49"/><rect x="754.45" y="384.7" width="3" height="52.5" fill="#ef4d49"/><rect x="757.67" y="436.5" width="3" height="24.5" fill="#ef4d49"/><rect x="760.89" y="457.5" width="3" height="14.7" fill="#ef4d49"/><rect x="764.10" y="416.2" width="3" height="55.3" fill="#089688"/><rect x="767.32" y="416.2" width="3" height="20.3" fill="#ef4d49"/><rect x="770.54" y="396.7" width="3" height="39.8" fill="#089688"/><rect x="773.76" y="395.0" width="3" height="1.5" fill="#089688"/><rect x="776.97" y="386.2" width="3" height="22.5" fill="#ef4d49"/><rect x="780.19" y="363.7" width="3" height="42.8" fill="#089688"/><rect x="783.41" y="364.5" width="3" height="42.0" fill="#ef4d49"/><rect x="786.62" y="405.7" width="3" height="28.5" fill="#ef4d49"/><rect x="789.84" y="425.8" width="3" height="9.0" fill="#089688"/><rect x="793.06" y="429.3" width="3" height="11.4" fill="#089688"/><rect x="796.27" y="430.8" width="3" height="5.5" fill="#ef4d49"/><rect x="799.49" y="436.3" width="3" height="19.2" fill="#ef4d49"/><rect x="802.71" y="455.5" width="3" height="25.8" fill="#ef4d49"/><rect x="805.92" y="454.0" width="3" height="28.3" fill="#089688"/><rect x="809.14" y="451.0" width="3" height="5.0" fill="#089688"/><rect x="812.36" y="452.0" width="3" height="4.0" fill="#ef4d49"/><rect x="815.57" y="425.8" width="3" height="30.7" fill="#089688"/><rect x="818.79" y="381.7" width="3" height="44.6" fill="#089688"/><rect x="822.01" y="365.8" width="3" height="17.9" fill="#089688"/><rect x="825.22" y="366.8" width="3" height="44.1" fill="#ef4d49"/><rect x="828.44" y="410.9" width="3" height="34.8" fill="#ef4d49"/><rect x="831.66" y="443.7" width="3" height="27.7" fill="#ef4d49"/><rect x="834.87" y="451.0" width="3" height="21.4" fill="#089688"/><rect x="838.09" y="446.2" width="3" height="4.0" fill="#089688"/><rect x="841.31" y="446.2" width="3" height="18.8" fill="#ef4d49"/><rect x="844.52" y="440.2" width="3" height="24.8" fill="#089688"/><rect x="847.74" y="440.2" width="3" height="16.8" fill="#ef4d49"/><rect x="850.96" y="458.0" width="3" height="7.0" fill="#ef4d49"/><rect x="854.18" y="457.5" width="3" height="7.9" fill="#089688"/></g>
<polyline points="6.4,476.8 9.7,490.8 12.9,492.8 16.1,464.0 19.3,433.0 22.5,440.0 25.7,450.9 29.0,447.9 32.2,456.9 35.4,470.8 38.6,485.8 41.8,466.9 45.0,446.9 48.3,454.9 51.5,444.9 54.7,467.9 57.9,466.9 61.1,458.9 64.3,455.9 67.6,424.0 70.8,433.0 74.0,460.9 77.2,454.9 80.4,451.9 83.6,453.5 86.9,449.9 90.1,494.8 93.3,507.7 96.5,559.2 99.7,550.8 102.9,530.0 106.2,518.0 109.4,513.0 112.6,532.0 115.8,564.7 119.0,555.8 122.2,513.0 125.5,519.0 128.7,537.4 131.9,506.7 135.1,510.7 138.3,501.8 141.5,535.4 144.8,531.0 148.0,528.4 151.2,534.4 154.4,522.5 157.6,528.0 160.8,537.6 164.1,525.7 167.3,520.7 170.5,518.3 173.7,530.7 176.9,535.7 180.1,530.7 183.4,501.8 186.6,511.7 189.8,483.8 193.0,419.6 196.2,393.7 199.4,204.0 202.7,272.8 205.9,242.7 209.1,228.0 212.3,216.4 215.5,202.7 218.7,338.8 222.0,316.4 225.2,293.9 228.4,271.5 231.6,248.8 234.8,252.0 238.0,255.7 241.3,220.9 244.5,171.5 247.7,117.2 250.9,117.8 254.1,109.9 257.4,152.7 260.6,130.8 263.8,78.0 267.0,102.9 270.2,146.8 273.4,162.7 276.7,185.6 279.9,189.6 283.1,197.0 286.3,200.0 289.5,264.8 292.7,290.7 296.0,259.8 299.2,228.9 302.4,244.9 305.6,209.0 308.8,191.6 312.0,197.0 315.3,202.0 318.5,173.7 321.7,177.7 324.9,180.7 328.1,152.7 331.3,144.8 334.6,147.8 337.8,172.7 341.0,202.5 344.2,158.7 347.4,121.8 350.6,154.7 353.9,198.0 357.1,248.8 360.3,258.0 363.5,236.0 366.7,203.0 369.9,232.0 373.2,253.8 376.4,254.0 379.6,240.4 382.8,266.0 386.0,247.4 389.2,283.0 392.5,260.5 395.7,262.0 398.9,285.2 402.1,285.0 405.3,297.0 408.5,310.7 411.8,353.9 415.0,337.0 418.2,399.8 421.4,371.4 424.6,344.9 427.8,318.5 431.1,311.7 434.3,331.0 437.5,349.9 440.7,336.7 443.9,315.7 447.1,295.0 450.4,303.0 453.6,294.2 456.8,312.7 460.0,339.8 463.2,335.4 466.4,311.7 469.7,311.1 472.9,290.8 476.1,248.4 479.3,272.8 482.5,292.0 485.7,310.7 489.0,296.7 492.2,315.7 495.4,315.7 498.6,437.6 501.8,341.9 505.0,364.9 508.3,354.9 511.5,350.9 514.7,356.9 517.9,353.9 521.1,341.9 524.3,349.9 527.6,361.9 530.8,364.9 534.0,367.9 537.2,377.8 540.4,412.7 543.6,404.7 546.9,414.7 550.1,408.7 553.3,394.8 556.5,438.5 559.7,447.0 562.9,462.9 566.2,479.9 569.4,524.7 572.6,511.4 575.8,509.8 579.0,529.7 582.2,546.7 585.5,543.7 588.7,483.8 591.9,483.8 595.1,455.9 598.3,456.9 601.5,375.9 604.8,403.8 608.0,398.8 611.2,379.3 614.4,359.5 617.6,336.4 620.8,366.3 624.1,392.8 627.3,370.9 630.5,349.3 633.7,374.9 636.9,399.8 640.1,384.9 643.4,370.0 646.6,368.8 649.8,376.8 653.0,344.4 656.2,335.2 659.5,283.8 662.7,306.2 665.9,304.0 669.1,322.7 672.3,324.5 675.5,342.0 678.8,386.0 682.0,415.0 685.2,444.0 688.4,472.7 691.6,434.0 694.8,461.8 698.1,433.0 701.3,406.0 704.5,394.0 707.7,307.0 710.9,423.0 714.1,345.0 717.4,300.0 720.6,258.0 723.8,131.2 727.0,184.2 730.2,197.0 733.4,237.5 736.7,173.7 739.9,239.5 743.1,228.2 746.3,189.2 749.5,224.5 752.7,181.0 756.0,233.5 759.2,195.2 762.4,198.2 765.6,267.0 768.8,257.7 772.0,267.2 775.3,301.7 778.5,274.7 781.7,299.5 784.9,255.0 788.1,235.0 791.3,249.5 794.6,221.5 797.8,210.6 801.0,212.8 804.2,220.5 807.4,227.8 810.6,222.5 813.9,232.5 817.1,248.2 820.3,237.0 823.5,162.7 826.7,166.5 829.9,177.0 833.2,169.5 836.4,222.0 839.6,232.5 842.8,202.5 846.0,199.5 849.2,195.7 852.5,194.2 855.7,182.2" fill="none" stroke="#b71c1c" stroke-width="2" stroke-linejoin="round" stroke-linecap="round"/>
</g>
<rect x="889" y="22" width="116" height="616" fill="#fff"/>
<rect x="6" y="610" width="999" height="28" fill="#fff"/>
<g stroke="#555a64" stroke-width="1" fill="none">
<path d="M5.5 22 V638.5 H1005.5 V22 M5 22 H1006"/>
<line x1="889.5" y1="22" x2="889.5" y2="638"/>
<line x1="947.5" y1="22" x2="947.5" y2="638"/>
<line x1="5" y1="610.5" x2="1005" y2="610.5"/>
<line x1="890" y1="25.50" x2="893.8" y2="25.50"/>
<line x1="890" y1="79.50" x2="893.8" y2="79.50"/>
<line x1="890" y1="134.50" x2="893.8" y2="134.50"/>
<line x1="890" y1="188.50" x2="893.8" y2="188.50"/>
<line x1="890" y1="243.50" x2="893.8" y2="243.50"/>
<line x1="890" y1="298.50" x2="893.8" y2="298.50"/>
<line x1="890" y1="354.50" x2="893.8" y2="354.50"/>
<line x1="890" y1="411.50" x2="893.8" y2="411.50"/>
<line x1="890" y1="445.50" x2="893.8" y2="445.50"/>
<line x1="890" y1="479.50" x2="893.8" y2="479.50"/>
<line x1="890" y1="513.50" x2="893.8" y2="513.50"/>
<line x1="890" y1="548.50" x2="893.8" y2="548.50"/>
<line x1="890" y1="577.50" x2="893.8" y2="577.50"/>
<line x1="890" y1="606.50" x2="893.8" y2="606.50"/>
<line x1="948" y1="66.50" x2="951.8" y2="66.50"/>
<line x1="948" y1="138.00" x2="951.8" y2="138.00"/>
<line x1="948" y1="209.50" x2="951.8" y2="209.50"/>
<line x1="948" y1="280.75" x2="951.8" y2="280.75"/>
<line x1="948" y1="352.00" x2="951.8" y2="352.00"/>
<line x1="948" y1="423.30" x2="951.8" y2="423.30"/>
<line x1="948" y1="494.30" x2="951.8" y2="494.30"/>
<line x1="948" y1="565.80" x2="951.8" y2="565.80"/>
<line x1="54.6" y1="611" x2="54.6" y2="613.8"/>
<line x1="192.7" y1="611" x2="192.7" y2="613.8"/>
<line x1="331.7" y1="611" x2="331.7" y2="613.8"/>
<line x1="424.5" y1="611" x2="424.5" y2="613.8"/>
<line x1="543.3" y1="611" x2="543.3" y2="613.8"/>
<line x1="681.9" y1="611" x2="681.9" y2="613.8"/>
<line x1="823.8" y1="611" x2="823.8" y2="613.8"/>
</g>
<g font-family="'Liberation Sans', sans-serif" font-size="11" fill="#555a64">
<text x="898.4" y="29.6" textLength="40.2" lengthAdjust="spacingAndGlyphs">1.16000</text>
<text x="898.4" y="83.6" textLength="40.2" lengthAdjust="spacingAndGlyphs">1.15000</text>
<text x="898.4" y="138.6" textLength="40.2" lengthAdjust="spacingAndGlyphs">1.14000</text>
<text x="898.4" y="192.6" textLength="40.2" lengthAdjust="spacingAndGlyphs">1.13000</text>
<text x="898.4" y="247.6" textLength="40.2" lengthAdjust="spacingAndGlyphs">1.12000</text>
<text x="898.4" y="302.6" textLength="40.2" lengthAdjust="spacingAndGlyphs">1.11000</text>
<text x="898.4" y="358.6" textLength="40.2" lengthAdjust="spacingAndGlyphs">1.10000</text>
<text x="898.4" y="415.6" textLength="40.2" lengthAdjust="spacingAndGlyphs">1.09000</text>
<text x="898.4" y="449.6" textLength="40.2" lengthAdjust="spacingAndGlyphs">1.08400</text>
<text x="898.4" y="483.6" textLength="40.2" lengthAdjust="spacingAndGlyphs">1.07800</text>
<text x="898.4" y="517.6" textLength="40.2" lengthAdjust="spacingAndGlyphs">1.07200</text>
<text x="898.4" y="552.6" textLength="40.2" lengthAdjust="spacingAndGlyphs">1.06600</text>
<text x="898.4" y="581.6" textLength="40.2" lengthAdjust="spacingAndGlyphs">1.06100</text>
<text x="898.4" y="610.6" textLength="40.2" lengthAdjust="spacingAndGlyphs">1.05600</text>
<text x="956.4" y="70.6" textLength="40.2" lengthAdjust="spacingAndGlyphs">7.20000</text>
<text x="956.4" y="142.1" textLength="40.2" lengthAdjust="spacingAndGlyphs">7.15000</text>
<text x="956.4" y="213.6" textLength="40.2" lengthAdjust="spacingAndGlyphs">7.10000</text>
<text x="956.4" y="284.9" textLength="40.2" lengthAdjust="spacingAndGlyphs">7.05000</text>
<text x="956.4" y="356.1" textLength="40.2" lengthAdjust="spacingAndGlyphs">7.00000</text>
<text x="956.4" y="427.4" textLength="40.2" lengthAdjust="spacingAndGlyphs">6.95000</text>
<text x="956.4" y="498.4" textLength="40.2" lengthAdjust="spacingAndGlyphs">6.90000</text>
<text x="956.4" y="569.9" textLength="40.2" lengthAdjust="spacingAndGlyphs">6.85000</text>
<text x="54.6" y="629.4" text-anchor="middle">Jun</text>
<text x="192.7" y="629.4" text-anchor="middle">Aug</text>
<text x="331.7" y="629.4" text-anchor="middle">Oct</text>
<text x="424.5" y="629.4" text-anchor="middle">11</text>
<text x="543.3" y="629.4" text-anchor="middle" font-weight="bold" textLength="26.6" lengthAdjust="spacingAndGlyphs">2020</text>
<text x="681.9" y="629.4" text-anchor="middle">Mar</text>
<text x="823.8" y="629.4" text-anchor="middle">May</text>
</g>
<rect x="890" y="611" width="57" height="27" fill="#fff"/>
<circle cx="918.5" cy="624.5" r="9.8" fill="#f0f3fa"/>
<text x="918.5" y="628.5" text-anchor="middle" font-family="'Liberation Sans', sans-serif" font-size="11" fill="#555a64">A</text>
<circle cx="976.5" cy="624.5" r="9.8" fill="#f0f3fa"/>
<text x="976.5" y="628.5" text-anchor="middle" font-family="'Liberation Sans', sans-serif" font-size="11" fill="#555a64">B</text>
<rect x="947" y="174.4" width="58.6" height="18" fill="#b71c1c"/>
<rect x="947.5" y="182.5" width="3.8" height="1" fill="#fff"/>
<text x="956.4" y="187.5" font-family="'Liberation Sans', sans-serif" font-size="11" font-weight="bold" fill="#fff" textLength="40.2" lengthAdjust="spacingAndGlyphs">7.11850</text>
<rect x="889" y="448.8" width="58.5" height="18.1" fill="#009688"/>
<rect x="889.5" y="457.3" width="3.8" height="1" fill="#fff"/>
<text x="898.4" y="461.9" font-family="'Liberation Sans', sans-serif" font-size="11" font-weight="bold" fill="#fff" textLength="40.2" lengthAdjust="spacingAndGlyphs">1.08179</text>
<rect x="947" y="448" width="1" height="20" fill="#555a64"/>
<g font-family="'Liberation Sans', sans-serif" font-size="11.6">
<text x="5.9" y="12.9" textLength="111.4" lengthAdjust="spacingAndGlyphs" font-weight="bold" fill="#1e222d">FX_IDC:EURUSD, 1D</text>
<text x="124" y="12.9" textLength="42.4" lengthAdjust="spacingAndGlyphs" fill="#1e222d">1.08179</text>
<path d="M169.6 12.6 L174.45 4 L179.3 12.6 Z" fill="#26a69a"/>
<text x="184.6" y="12.9" textLength="100.9" lengthAdjust="spacingAndGlyphs" fill="#1e222d">+0.00123 (+0.11%)</text>
<text x="290" y="12.9" textLength="12.1" lengthAdjust="spacingAndGlyphs" font-weight="bold" fill="#1e222d">O:</text>
<text x="303.7" y="12.9" textLength="43.5" lengthAdjust="spacingAndGlyphs" fill="#26a69a">1.08044</text>
<text x="351.8" y="12.9" textLength="12.3" lengthAdjust="spacingAndGlyphs" font-weight="bold" fill="#1e222d">H:</text>
<text x="366" y="12.9" textLength="43.0" lengthAdjust="spacingAndGlyphs" fill="#26a69a">1.08512</text>
<text x="413.8" y="12.9" textLength="8.6" lengthAdjust="spacingAndGlyphs" font-weight="bold" fill="#1e222d">L:</text>
<text x="424.3" y="12.9" textLength="43.2" lengthAdjust="spacingAndGlyphs" fill="#26a69a">1.07890</text>
<text x="472.6" y="12.9" textLength="10.2" lengthAdjust="spacingAndGlyphs" font-weight="bold" fill="#1e222d">C:</text>
<text x="484.9" y="12.9" textLength="43.5" lengthAdjust="spacingAndGlyphs" fill="#26a69a">1.08179</text>
</g>
<text x="13.8" y="42.5" textLength="147" lengthAdjust="spacingAndGlyphs" font-family="'Liberation Sans', sans-serif" font-size="11.3" font-weight="bold" fill="#585c67">Euro / U.S. Dollar, 1D, IDC</text>
<text x="13.8" y="58.8" textLength="73.4" lengthAdjust="spacingAndGlyphs" font-family="'Liberation Sans', sans-serif" font-size="11" fill="#8a8e99">USDCNH, IDC</text>
<g id="logo" fill="#2196f3"><circle cx="15.5" cy="653" r="4.4"/><circle cx="24.3" cy="655.3" r="3.5"/><circle cx="8.4" cy="658.3" r="3.5"/><rect x="4.9" y="656.2" width="24.9" height="6.7" rx="3.2"/><rect x="9" y="655.5" width="17" height="7.4"/><path d="M5.6 662.6 L14.6 653.9 L20.5 659.7 L27 653" fill="none" stroke="#fff" stroke-width="1.1"/><circle cx="14.6" cy="653.9" r="1.05" fill="#fff"/><circle cx="20.5" cy="659.7" r="1.05" fill="#fff"/></g>
<text x="32.4" y="659.7" textLength="67.2" lengthAdjust="spacingAndGlyphs" font-family="'Liberation Sans', sans-serif" font-size="11.6" fill="#2a2e39" stroke="#2a2e39" stroke-width="0.25">TradingView</text>
</svg>
</body></html>
